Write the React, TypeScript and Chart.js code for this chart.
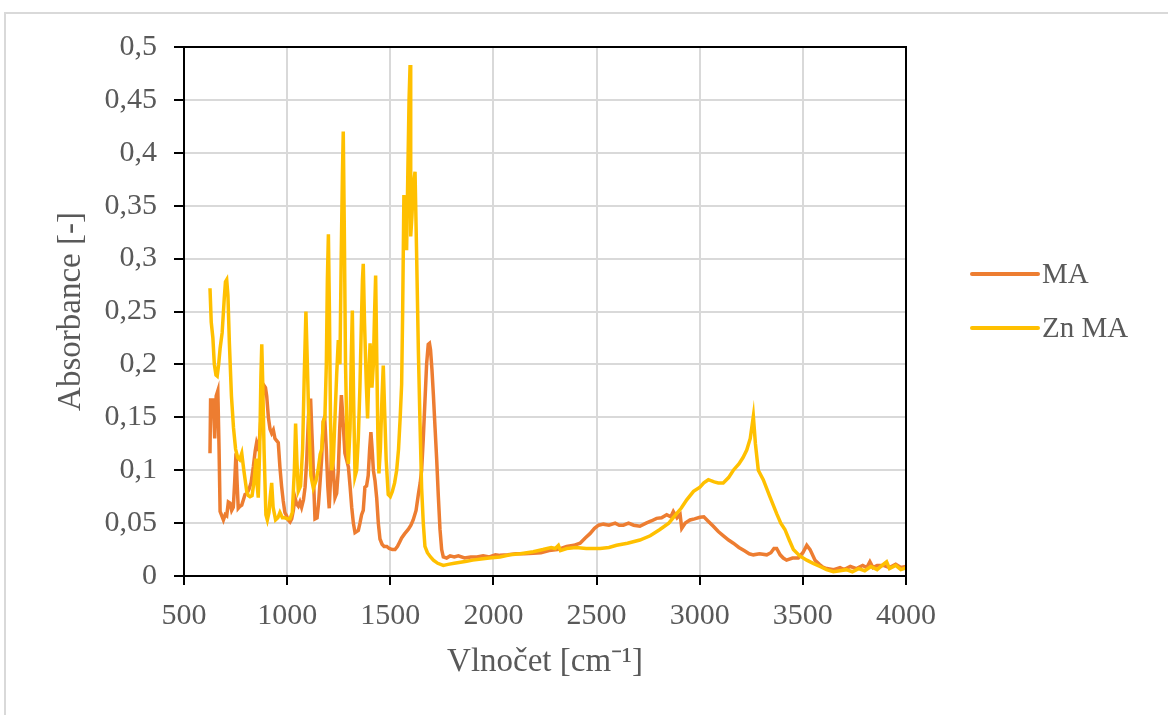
import React, { useEffect, useRef } from 'react';
import { Chart, registerables } from 'chart.js';

Chart.register(...registerables);

const SERIES_NAMES = ['MA', 'Zn MA'];
const SERIES_COLORS = ['#ED7D31', '#FFC000'];
const X_TITLE = 'Vlnočet [cm⁻¹]';
const Y_TITLE = 'Absorbance [-]';
const X_TICK_LABELS = ['500', '1000', '1500', '2000', '2500', '3000', '3500', '4000'];
const Y_TICK_LABELS = ['0', '0,05', '0,1', '0,15', '0,2', '0,25', '0,3', '0,35', '0,4', '0,45', '0,5'];

const MA_X = [
  626, 629, 635, 641, 649, 656, 664, 670, 675, 691, 700, 707, 715, 723, 731, 739, 746, 752, 757, 763,
  772, 780, 788, 796, 805, 815, 825, 836, 845, 852, 862, 870, 878, 888, 895, 901, 909, 917, 925, 933,
  941, 949, 957, 965, 973, 981, 989, 997, 1005, 1014, 1022, 1030, 1038, 1046, 1054, 1062, 1070, 1079, 1087, 1095,
  1103, 1109, 1114, 1119, 1124, 1130, 1135, 1145, 1152, 1159, 1167, 1175, 1182, 1190, 1197, 1204, 1210, 1216, 1224, 1232,
  1240, 1248, 1255, 1263, 1270, 1280, 1288, 1297, 1305, 1313, 1321, 1329, 1337, 1345, 1353, 1361, 1369, 1377, 1385, 1393,
  1400, 1406, 1412, 1418, 1426, 1434, 1442, 1450, 1460, 1470, 1483, 1495, 1510, 1523, 1535, 1545, 1555, 1570, 1587, 1600,
  1611, 1625, 1636, 1645, 1652, 1660, 1668, 1676, 1684, 1690, 1695, 1702, 1709, 1717, 1725, 1733, 1741, 1749, 1757, 1773,
  1790, 1810, 1830, 1860, 1890, 1920, 1950, 1980, 2010, 2032, 2070, 2110, 2150, 2193, 2230, 2270, 2310, 2355, 2390, 2420,
  2445, 2468, 2490, 2510, 2533, 2560, 2590, 2610, 2630, 2655, 2680, 2710, 2740, 2765, 2791, 2815, 2840, 2860, 2872, 2890,
  2905, 2913, 2930, 2953, 2975, 3001, 3020, 3040, 3066, 3090, 3115, 3140, 3163, 3190, 3215, 3240, 3260, 3290, 3325, 3345,
  3360, 3373, 3390, 3405, 3421, 3450, 3478, 3500, 3519, 3535, 3559, 3580, 3600, 3616, 3650, 3680, 3700, 3730, 3760, 3790,
  3810, 3825, 3840, 3860, 3890, 3920, 3950, 3975, 4000,
];
const MA_Y = [
  0.116, 0.168, 0.150, 0.168, 0.130, 0.170, 0.175, 0.120, 0.061, 0.053, 0.058, 0.057, 0.070, 0.069, 0.062, 0.065, 0.090, 0.116, 0.090, 0.064,
  0.066, 0.067, 0.072, 0.077, 0.078, 0.082, 0.088, 0.103, 0.118, 0.126, 0.120, 0.140, 0.165, 0.180, 0.178, 0.170, 0.150, 0.139, 0.135, 0.138,
  0.130, 0.128, 0.126, 0.103, 0.085, 0.071, 0.060, 0.057, 0.053, 0.051, 0.054, 0.062, 0.074, 0.068, 0.066, 0.070, 0.065, 0.072, 0.084, 0.110,
  0.149, 0.166, 0.166, 0.140, 0.116, 0.080, 0.054, 0.055, 0.068, 0.087, 0.110, 0.146, 0.150, 0.120, 0.085, 0.064, 0.090, 0.123, 0.100, 0.074,
  0.078, 0.100, 0.140, 0.171, 0.150, 0.116, 0.110, 0.103, 0.085, 0.065, 0.050, 0.041, 0.042, 0.043, 0.050, 0.058, 0.062, 0.084, 0.085, 0.095,
  0.120, 0.136, 0.120, 0.100, 0.090, 0.074, 0.050, 0.035, 0.030, 0.028, 0.028, 0.026, 0.025, 0.025, 0.028, 0.032, 0.036, 0.040, 0.044, 0.048,
  0.053, 0.062, 0.077, 0.088, 0.100, 0.130, 0.165, 0.200, 0.219, 0.220, 0.214, 0.195, 0.171, 0.140, 0.110, 0.075, 0.044, 0.025, 0.018, 0.017,
  0.019, 0.018, 0.019, 0.017, 0.018, 0.018, 0.019, 0.018, 0.020, 0.0195, 0.020, 0.021, 0.021, 0.0214, 0.022, 0.024, 0.025, 0.028, 0.029, 0.031,
  0.036, 0.040, 0.045, 0.048, 0.049, 0.048, 0.050, 0.048, 0.048, 0.050, 0.048, 0.047, 0.050, 0.052, 0.0545, 0.055, 0.058, 0.056, 0.061, 0.055,
  0.058, 0.045, 0.050, 0.053, 0.054, 0.0555, 0.056, 0.052, 0.047, 0.042, 0.038, 0.034, 0.031, 0.027, 0.024, 0.021, 0.020, 0.021, 0.020, 0.022,
  0.026, 0.026, 0.020, 0.017, 0.015, 0.017, 0.017, 0.022, 0.029, 0.025, 0.015, 0.011, 0.008, 0.007, 0.006, 0.008, 0.006, 0.009, 0.007, 0.010,
  0.008, 0.0135, 0.008, 0.010, 0.010, 0.008, 0.011, 0.008, 0.009,
];

const ZN_X = [
  626, 632, 640, 647, 655, 661, 668, 675, 685, 695, 701, 707, 713, 720, 730, 740, 750, 760, 770, 780,
  790, 804, 812, 820, 830, 840, 849, 855, 860, 867, 873, 877, 882, 888, 897, 904, 912, 918, 925, 932,
  944, 955, 965, 977, 989, 1000, 1014, 1025, 1035, 1041, 1047, 1054, 1065, 1075, 1083, 1091, 1098, 1106, 1115, 1127,
  1140, 1150, 1160, 1168, 1175, 1183, 1190, 1195, 1200, 1205, 1210, 1216, 1224, 1232, 1240, 1248, 1256, 1262, 1268, 1272,
  1277, 1283, 1290, 1297, 1305, 1310, 1316, 1322, 1329, 1337, 1345, 1353, 1360, 1365, 1369, 1375, 1384, 1390, 1396, 1402,
  1407, 1411, 1418, 1424, 1429, 1435, 1440, 1445, 1452, 1460, 1466, 1472, 1480, 1490, 1500, 1510, 1521, 1531, 1540, 1548,
  1555, 1560, 1566, 1572, 1579, 1585, 1591, 1596, 1599, 1605, 1612, 1620, 1627, 1636, 1644, 1652, 1660, 1668, 1680, 1695,
  1709, 1730, 1757, 1780, 1810, 1840, 1870, 1900, 1940, 1980, 2032, 2080, 2130, 2193, 2240, 2280, 2300, 2315, 2325, 2355,
  2400, 2450, 2517, 2560, 2597, 2650, 2710, 2760, 2807, 2850, 2888, 2910, 2937, 2970, 3001, 3020, 3042, 3070, 3090, 3114,
  3140, 3163, 3190, 3210, 3228, 3245, 3260, 3270, 3284, 3308, 3340, 3373, 3393, 3413, 3434, 3454, 3485, 3519, 3550, 3583,
  3615, 3648, 3680, 3710, 3740, 3770, 3800, 3830, 3860, 3890, 3906, 3920, 3950, 3975, 4000,
];
const ZN_Y = [
  0.272, 0.240, 0.225, 0.200, 0.190, 0.189, 0.200, 0.215, 0.230, 0.262, 0.278, 0.280, 0.265, 0.220, 0.170, 0.140, 0.120, 0.112, 0.110, 0.116,
  0.100, 0.080, 0.076, 0.075, 0.076, 0.090, 0.111, 0.085, 0.074, 0.120, 0.190, 0.219, 0.180, 0.120, 0.058, 0.053, 0.060, 0.075, 0.088, 0.065,
  0.053, 0.055, 0.060, 0.055, 0.055, 0.054, 0.054, 0.060, 0.100, 0.144, 0.110, 0.080, 0.085, 0.120, 0.190, 0.250, 0.200, 0.140, 0.095, 0.083,
  0.090, 0.100, 0.115, 0.120, 0.146, 0.150, 0.200, 0.280, 0.323, 0.250, 0.150, 0.100, 0.110, 0.150, 0.190, 0.223, 0.200, 0.300, 0.380, 0.420,
  0.330, 0.200, 0.130, 0.106, 0.140, 0.200, 0.251, 0.170, 0.094, 0.100, 0.130, 0.180, 0.240, 0.280, 0.295, 0.240, 0.180, 0.149, 0.190, 0.220,
  0.200, 0.178, 0.200, 0.250, 0.284, 0.200, 0.130, 0.097, 0.120, 0.170, 0.199, 0.160, 0.110, 0.077, 0.075, 0.080, 0.088, 0.100, 0.120, 0.150,
  0.181, 0.250, 0.360, 0.335, 0.308, 0.380, 0.450, 0.483, 0.321, 0.340, 0.370, 0.382, 0.311, 0.214, 0.145, 0.083, 0.050, 0.028, 0.022, 0.018,
  0.015, 0.012, 0.010, 0.011, 0.012, 0.013, 0.014, 0.015, 0.016, 0.017, 0.018, 0.020, 0.021, 0.023, 0.025, 0.027, 0.026, 0.029, 0.024, 0.026,
  0.027, 0.026, 0.026, 0.027, 0.029, 0.031, 0.034, 0.038, 0.044, 0.050, 0.059, 0.064, 0.072, 0.080, 0.084, 0.088, 0.091, 0.089, 0.088, 0.088,
  0.093, 0.100, 0.106, 0.112, 0.119, 0.130, 0.151, 0.125, 0.100, 0.091, 0.075, 0.059, 0.050, 0.044, 0.034, 0.025, 0.019, 0.015, 0.012, 0.009,
  0.006, 0.004, 0.005, 0.006, 0.004, 0.007, 0.005, 0.009, 0.006, 0.011, 0.0135, 0.007, 0.010, 0.006, 0.0076,
];

const FONT_FAMILY = "'Liberation Serif', 'Times New Roman', serif";
const TEXT_COLOR = '#595959';

function toPoints(xs: number[], ys: number[]) {
  return xs.map((x, i) => ({ x, y: ys[i] }));
}

const frameBorderPlugin = {
  id: 'frameBorder',
  afterDraw(chart: any) {
    const { ctx, chartArea } = chart;
    ctx.save();
    ctx.strokeStyle = '#000';
    ctx.lineWidth = 2;
    ctx.strokeRect(chartArea.left, chartArea.top, chartArea.right - chartArea.left, chartArea.bottom - chartArea.top);
    ctx.restore();
  },
};

const sideLegendPlugin = {
  id: 'sideLegend',
  afterDraw(chart: any) {
    const { ctx } = chart;
    const x0 = 972;
    const x1 = 1038;
    const ys = [274, 328];
    ctx.save();
    chart.data.datasets.forEach((ds: any, i: number) => {
      const y = ys[i];
      ctx.strokeStyle = ds.borderColor;
      ctx.lineWidth = 4;
      ctx.lineCap = 'round';
      ctx.beginPath();
      ctx.moveTo(x0, y);
      ctx.lineTo(x1, y);
      ctx.stroke();
      ctx.fillStyle = TEXT_COLOR;
      ctx.font = `29px ${FONT_FAMILY}`;
      ctx.textBaseline = 'middle';
      ctx.textAlign = 'left';
      ctx.fillText(ds.label, x1 + 4, y + 1);
    });
    ctx.restore();
  },
};

export default function App() {
  const canvasRef = useRef<HTMLCanvasElement | null>(null);

  useEffect(() => {
    if (!canvasRef.current) return;
    const chart = new Chart(canvasRef.current, {
      type: 'line',
      data: {
        datasets: [
          {
            label: SERIES_NAMES[0],
            data: toPoints(MA_X, MA_Y),
            borderColor: SERIES_COLORS[0],
            backgroundColor: SERIES_COLORS[0],
            borderWidth: 3.5,
            pointRadius: 0,
            tension: 0,
            order: 1,
          },
          {
            label: SERIES_NAMES[1],
            data: toPoints(ZN_X, ZN_Y),
            borderColor: SERIES_COLORS[1],
            backgroundColor: SERIES_COLORS[1],
            borderWidth: 3.5,
            pointRadius: 0,
            tension: 0,
            order: 0,
          },
        ],
      },
      options: {
        responsive: false,
        animation: false,
        layout: { padding: { top: 47, right: 262, left: 0, bottom: 0 } },
        plugins: {
          legend: { display: false },
          tooltip: { enabled: false },
        },
        scales: {
          x: {
            type: 'linear',
            min: 500,
            max: 4000,
            ticks: {
              stepSize: 500,
              autoSkip: false,
              maxRotation: 0,
              color: TEXT_COLOR,
              font: { family: FONT_FAMILY, size: 30 },
              padding: 13,
              callback: (_v: any, i: number) => X_TICK_LABELS[i],
            },
            grid: {
              color: '#d9d9d9',
              lineWidth: 2,
              drawTicks: true,
              tickLength: 9,
              tickColor: '#000',
              tickWidth: 2,
            },
            border: { display: true, color: '#000', width: 2 },
            title: {
              display: true,
              text: X_TITLE,
              color: TEXT_COLOR,
              font: { family: FONT_FAMILY, size: 33 },
              padding: { top: 0, bottom: 33 },
            },
            afterFit: (s: any) => {
              s.height = 139;
            },
          },
          y: {
            type: 'linear',
            min: 0,
            max: 0.5,
            ticks: {
              stepSize: 0.05,
              autoSkip: false,
              color: TEXT_COLOR,
              font: { family: FONT_FAMILY, size: 30 },
              padding: 17,
              callback: (_v: any, i: number) => Y_TICK_LABELS[i],
            },
            grid: {
              color: '#d9d9d9',
              lineWidth: 2,
              drawTicks: true,
              tickLength: 10,
              tickColor: '#000',
              tickWidth: 2,
            },
            border: { display: true, color: '#000', width: 2 },
            title: {
              display: true,
              text: Y_TITLE,
              color: TEXT_COLOR,
              font: { family: FONT_FAMILY, size: 33 },
              padding: { top: 52, bottom: 0 },
            },
            afterFit: (s: any) => {
              s.width = 184;
            },
          },
        },
      },
      plugins: [frameBorderPlugin, sideLegendPlugin],
    } as any);
    return () => chart.destroy();
  }, []);

  return (
    <div
      style={{
        position: 'absolute',
        left: 0,
        top: 0,
        width: 1168,
        height: 715,
        overflow: 'hidden',
        background: '#fff',
      }}
    >
      <div
        style={{
          position: 'absolute',
          left: 4,
          top: 12,
          width: 1300,
          height: 900,
          border: '2px solid #d9d9d9',
          boxSizing: 'border-box',
        }}
      />
      <canvas
        ref={canvasRef}
        width={1168}
        height={715}
        style={{ position: 'absolute', left: 0, top: 0, width: 1168, height: 715 }}
      />
    </div>
  );
}
